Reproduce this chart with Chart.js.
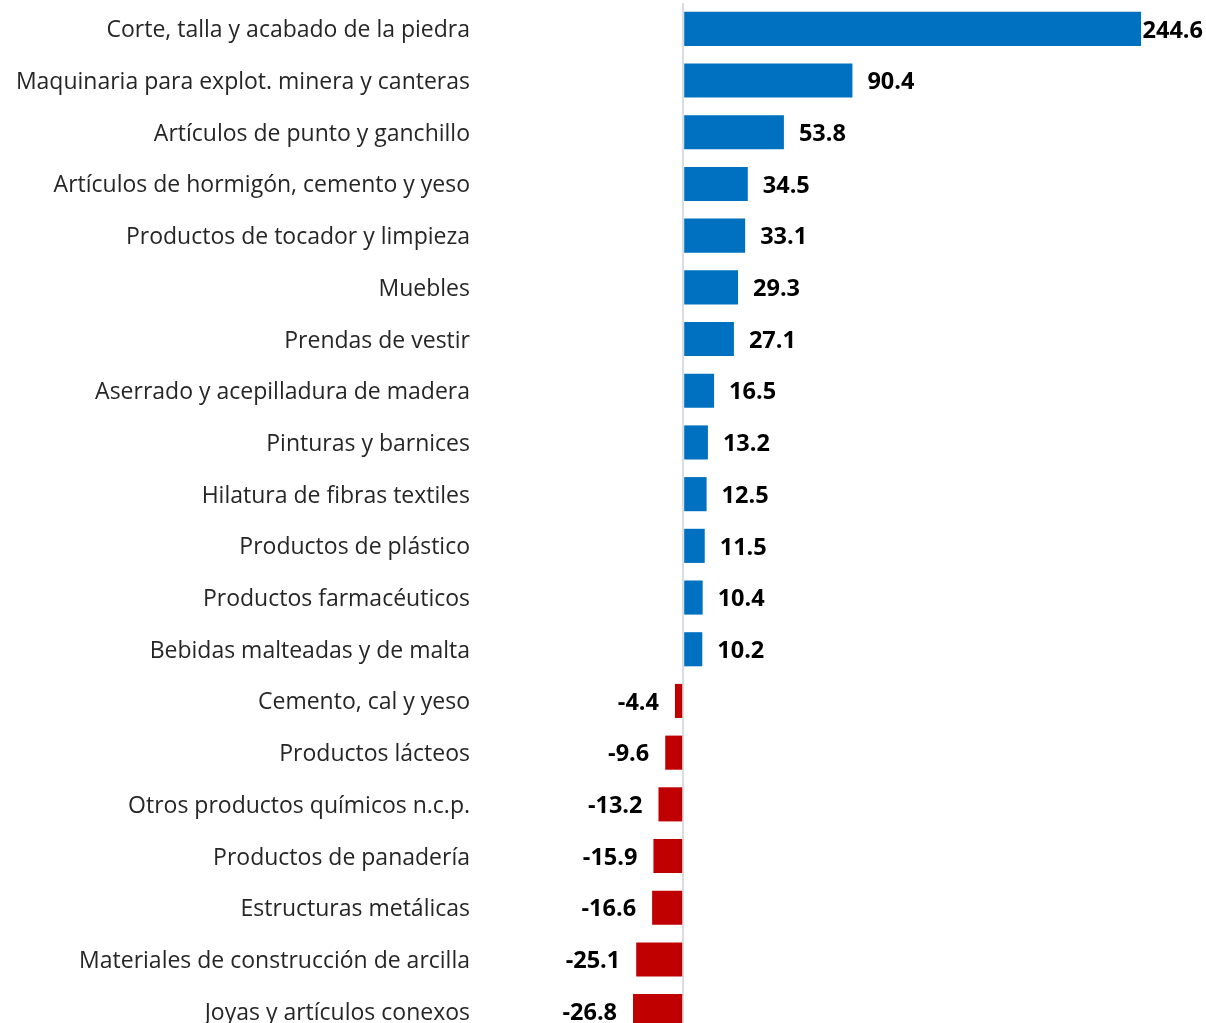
<!DOCTYPE html>
<html>
<head>
<meta charset="utf-8">
<script src="https://cdn.jsdelivr.net/npm/chart.js@4"></script>
<style>
    html, body { margin: 0; padding: 0; background: #fff; overflow: hidden; }
    #wrap { width: 1206px; height: 1040px; position: relative; }
</style>
</head>
<body>
<div id="wrap"><canvas id="barChart" width="1206" height="1040"></canvas></div>
<script>
// Data
const categories = [
    'Corte, talla y acabado de la piedra',
    'Maquinaria para explot. minera y canteras',
    'Artículos de punto y ganchillo',
    'Artículos de hormigón, cemento y yeso',
    'Productos de tocador y limpieza',
    'Muebles',
    'Prendas de vestir',
    'Aserrado y acepilladura de madera',
    'Pinturas y barnices',
    'Hilatura de fibras textiles',
    'Productos de plástico',
    'Productos farmacéuticos',
    'Bebidas malteadas y de malta',
    'Cemento, cal y yeso',
    'Productos lácteos',
    'Otros productos químicos n.c.p.',
    'Productos de panadería',
    'Estructuras metálicas',
    'Materiales de construcción de arcilla',
    'Joyas y artículos conexos'
];
const values = [244.6, 90.4, 53.8, 34.5, 33.1, 29.3, 27.1, 16.5, 13.2, 12.5,
    11.5, 10.4, 10.2, -4.4, -9.6, -13.2, -15.9, -16.6, -25.1, -26.8];

const positiveColor = '#0070C0';
const negativeColor = '#C00000';
const labelFont = 'bold 23.5px "Open Sans", "DejaVu Sans", sans-serif';

// Value labels next to each bar end
const valueLabels = {
    id: 'valueLabels',
    afterDatasetsDraw(chart) {
        const ctx = chart.ctx;
        const meta = chart.getDatasetMeta(0);
        ctx.save();
        ctx.font = labelFont;
        ctx.fillStyle = '#000';
        ctx.textBaseline = 'middle';
        meta.data.forEach((bar, i) => {
            const v = values[i];
            const text = v.toFixed(1);
            const w = ctx.measureText(text).width;
            const y = bar.y + 2;
            if (v >= 0) {
                let x = bar.x + 15;
                if (x + w > chart.width - 3) x = chart.width - 3 - w;
                ctx.textAlign = 'left';
                ctx.fillText(text, x, y);
            } else {
                ctx.textAlign = 'right';
                ctx.fillText(text, bar.x - 16, y);
            }
        });
        ctx.restore();
    }
};

window.addEventListener('load', () => {
    const ctx = document.getElementById('barChart').getContext('2d');
    new Chart(ctx, {
        type: 'bar',
        data: {
            labels: categories,
            datasets: [{
                data: values,
                backgroundColor: values.map(v => v >= 0 ? positiveColor : negativeColor),
                borderWidth: 0,
                barPercentage: 0.66,
                categoryPercentage: 1
            }]
        },
        options: {
            indexAxis: 'y',
            responsive: false,
            animation: false,
            layout: { padding: { top: 3, bottom: 3, right: 8, left: 0 } },
            plugins: {
                legend: { display: false },
                tooltip: { enabled: false }
            },
            scales: {
                x: {
                    min: -100,
                    max: 275,
                    ticks: { display: false, stepSize: 25 },
                    border: { display: false },
                    grid: {
                        drawTicks: false,
                        lineWidth: 2,
                        color: c => c.tick && c.tick.value === 0 ? '#D9DDE3' : 'rgba(0,0,0,0)'
                    }
                },
                y: {
                    border: { display: false },
                    grid: { display: false, drawTicks: false },
                    ticks: {
                        padding: 26,
                        labelOffset: 2,
                        color: '#262626',
                        autoSkip: false,
                        font: { family: '"Open Sans", "DejaVu Sans", sans-serif', size: 23 }
                    },
                    afterFit(axis) {
                        axis.width = 496;
                        axis.paddingTop = 0;
                        axis.paddingBottom = 0;
                    }
                }
            }
        },
        plugins: [valueLabels]
    });
});
</script>
</body>
</html>
